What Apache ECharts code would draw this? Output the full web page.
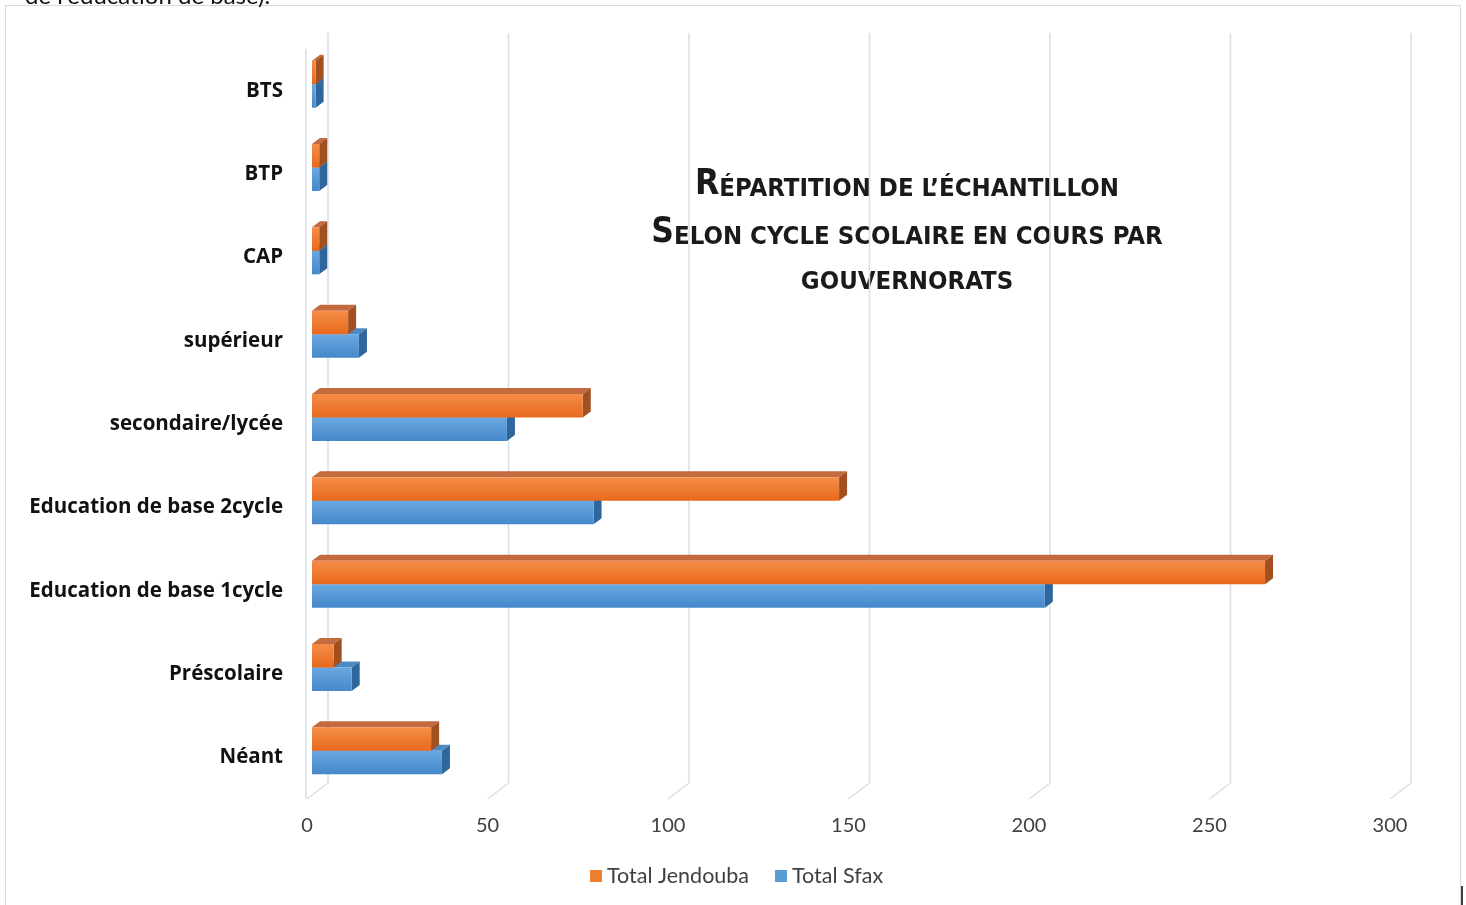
<!DOCTYPE html>
<html><head><meta charset="utf-8">
<script src="https://cdn.jsdelivr.net/npm/echarts@6/dist/echarts.min.js"></script>
<style>html,body{margin:0;padding:0;background:#fff;}#c{width:1466px;height:905px;}</style>
</head><body><div id="c"></div>
<script>
const categories = ['Néant','Préscolaire','Education de base 1cycle','Education de base 2cycle','secondaire/lycée','supérieur','CAP','BTP','BTS'];
const jendouba = [33, 6, 264, 146, 75, 10, 2, 2, 1];
const sfax = [36, 11, 203, 78, 54, 13, 2, 2, 1];
const xTicks = [0, 50, 100, 150, 200, 250, 300];

const DX = 8, DY = -6, BAR_H = 23.5, SHIFT = -6.5, START = 5;

function barRenderer(upper, cols) {
  return function (params, api) {
    const cat = api.value(1), v = api.value(0);
    const p0 = api.coord([0, cat]);
    const p1 = api.coord([v, cat]);
    const cy = p0[1] + SHIFT;
    const yTop = upper ? cy - BAR_H : cy;
    const x0 = p0[0] + START, x1 = p1[0] + START, h = BAR_H;
    return {
      type: 'group',
      children: [
        { type: 'polygon', shape: { points: [[x0, yTop], [x0 + DX, yTop + DY], [x1 + DX, yTop + DY], [x1, yTop]] },
          style: { fill: cols.top } },
        { type: 'polygon', shape: { points: [[x1, yTop], [x1 + DX, yTop + DY], [x1 + DX, yTop + h + DY], [x1, yTop + h]] },
          style: { fill: cols.side } },
        { type: 'rect', shape: { x: x0, y: yTop, width: x1 - x0, height: h },
          style: { fill: new echarts.graphic.LinearGradient(0, 0, 0, 1, [
            { offset: 0, color: cols.f1 }, { offset: 1, color: cols.f2 }]) } }
      ]
    };
  };
}

function gridRenderer(params, api) {
  const v = api.value(0);
  const pb = api.coord([v, 0]);
  const pt = api.coord([v, categories.length - 1]);
  const band = api.size([0, 1])[1];
  const bottom = pb[1] + band / 2, top = pt[1] - band / 2;
  const fx = pb[0];
  const children = [
    { type: 'polyline', shape: { points: [[fx + 21, top - 16], [fx + 21, bottom - 16], [fx, bottom]] },
      style: { stroke: '#d9dfe8', lineWidth: 1.5, fill: null } }
  ];
  if (v === 0) {
    children.push({ type: 'line', shape: { x1: fx - 1, y1: top, x2: fx - 1, y2: bottom },
      style: { stroke: '#d9dfe8', lineWidth: 1.5 } });
  }
  return { type: 'group', children };
}

const chart = echarts.init(document.getElementById('c'), null, { renderer: 'canvas' });
const tFont = '"Liberation Sans Narrow","DejaVu Sans Condensed",sans-serif';
function titleLine(big, small, y, sz) {
  return {
    type: 'text', x: 907, y: y,
    style: {
      text: (big ? '{b|' + big + '}' : '') + '{s|' + small + '}',
      textAlign: 'center', textVerticalAlign: 'bottom',
      rich: {
        b: { fontFamily: tFont, fontWeight: 'bold', fontSize: 35, fill: '#1a1a1a', verticalAlign: 'bottom' },
        s: { fontFamily: tFont, fontWeight: 'bold', fontSize: sz, fill: '#1a1a1a', verticalAlign: 'bottom' }
      }
    }
  };
}

chart.setOption({
  backgroundColor: '#fff',
  animation: false,
  color: ['#5b9bd5', '#ed7d31'],
  grid: { left: 307, right: 76, top: 49, bottom: 106 },
  xAxis: {
    type: 'value', min: 0, max: 300, interval: 50,
    axisLine: { show: false }, axisTick: { show: false }, splitLine: { show: false },
    axisLabel: { fontSize: 20, color: '#404040', margin: 17, fontFamily: 'Lato, sans-serif' }
  },
  yAxis: {
    type: 'category', data: categories,
    axisLine: { show: false }, axisTick: { show: false },
    axisLabel: { fontSize: 20.5, fontWeight: 'bold', color: '#111', margin: 24, padding: [6, 0, 0, 0], fontFamily: '"Open Sans", sans-serif' }
  },
  legend: {
    data: ['Total Jendouba', 'Total Sfax'],
    left: 585, top: 860, icon: 'rect', itemWidth: 12, itemHeight: 12, itemGap: 26,
    textStyle: { fontSize: 21.5, color: '#404040', fontFamily: 'Lato, sans-serif', padding: [0, 0, 0, 0] }
  },
  series: [
    { type: 'custom', name: 'grid', silent: true, z: 1,
      data: xTicks.map(t => [t, 0]), encode: { x: 0, y: 1 }, renderItem: gridRenderer },
    { type: 'custom', name: 'Total Sfax', z: 2, itemStyle: { color: '#5b9bd5' },
      data: sfax.map((v, i) => [v, i]), encode: { x: 0, y: 1 },
      renderItem: barRenderer(false, { f1: '#6aa8e0', f2: '#4688cb', top: '#4f89c3', side: '#2f679c' }) },
    { type: 'custom', name: 'Total Jendouba', z: 3, itemStyle: { color: '#ed7d31' },
      data: jendouba.map((v, i) => [v, i]), encode: { x: 0, y: 1 },
      renderItem: barRenderer(true, { f1: '#f58d48', f2: '#e8691d', top: '#c36a3e', side: '#a24f22' }) }
  ],
  graphic: [
    { type: 'rect', shape: { x: 5.5, y: 5.5, width: 1455, height: 910 }, style: { fill: null, stroke: '#d9d9d9', lineWidth: 1 }, z: -1 },
    { type: 'line', shape: { x1: 1462, y1: 886, x2: 1462, y2: 905 }, style: { stroke: '#000', lineWidth: 1.5 } },
    { type: 'text', x: 25, y: 8, style: { text: "de l'éducation de base).", fontSize: 24, fontFamily: 'Lato, sans-serif', fill: '#111', textVerticalAlign: 'bottom' } },
    titleLine('R', 'ÉPARTITION DE L’ÉCHANTILLON', 202, 25.5),
    titleLine('S', 'ELON CYCLE SCOLAIRE EN COURS PAR', 250, 25.5),
    titleLine('', 'GOUVERNORATS', 295, 25.5)
  ]
});
</script></body></html>
